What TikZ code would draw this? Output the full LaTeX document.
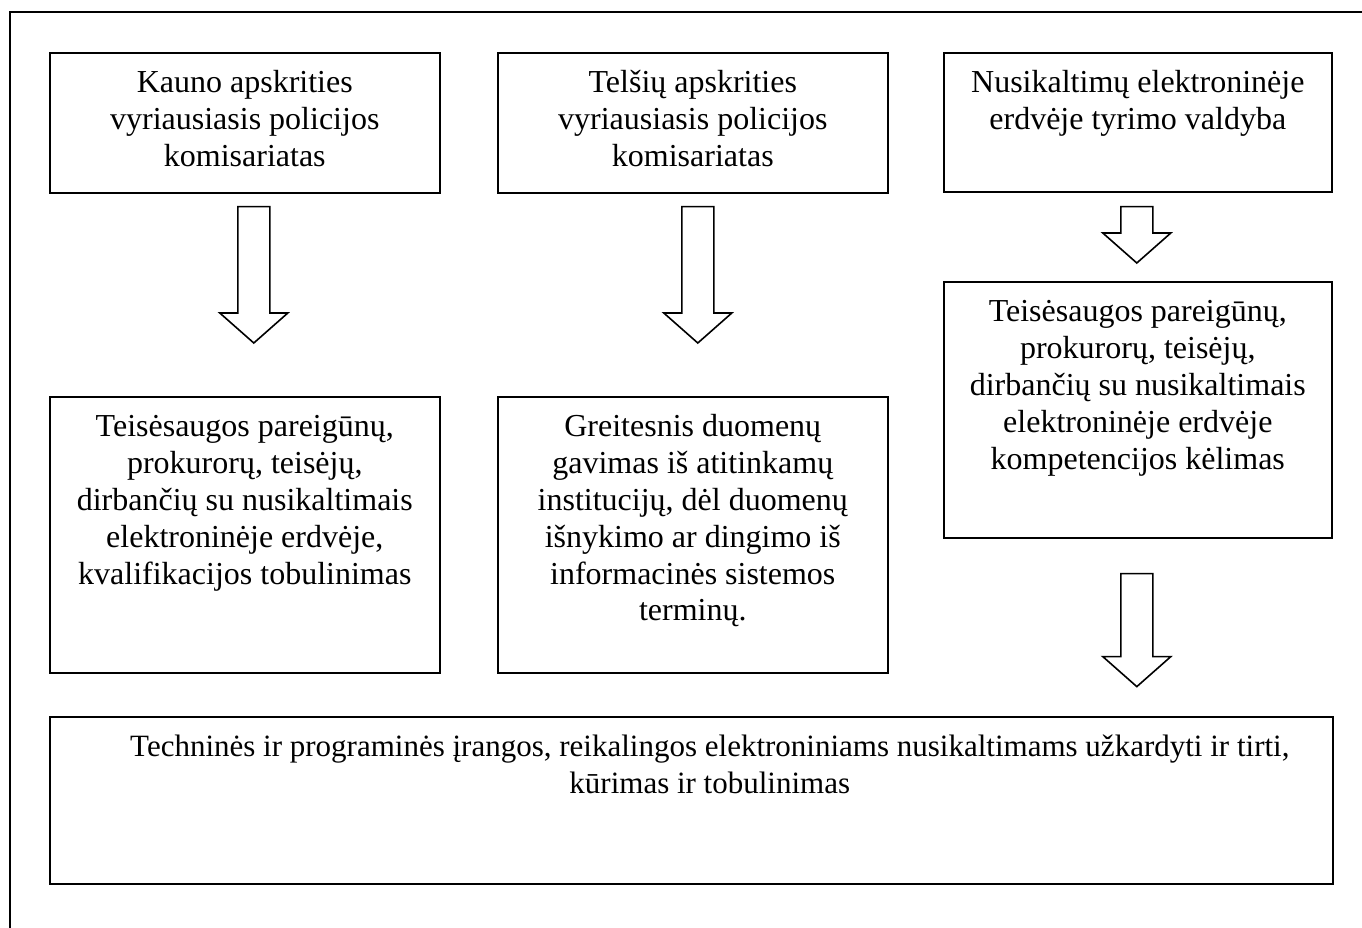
\documentclass[tikz,border=0pt]{standalone}
\usepackage{fontspec}
\setmainfont{Liberation Serif}
\usepackage{tikz}
\usetikzlibrary{positioning,calc}

% text set from the top of a box
\newcommand{\boxtext}[3]{\parbox[c][#2][t]{#1}{\centering\rule{0pt}{40pt}#3}}
% hollow block arrow from top centre #1 down to tip #2
\newcommand{\blockarrow}[2]{%
  \draw[blockline] ($(#1)+(-16,0)$) -- ($(#1)+(16,0)$) -- ($(#2)+(16,-30)$) -- ($(#2)+(34,-30)$)
    -- (#2) -- ($(#2)+(-34,-30)$) -- ($(#2)+(-16,-30)$) -- cycle;}

\begin{document}
\begin{tikzpicture}[x=1pt,y=-1pt,
    box/.style={draw,line width=1.6pt,inner sep=0pt,anchor=north west,
      font=\fontsize{32pt}{36.8pt}\selectfont},
    blockline/.style={line width=1.6pt,line join=miter}]
    \useasboundingbox (0,0) rectangle (1362,927);

    % Frame
    \draw[line width=1.6pt] (10,950) -- (10,12) -- (1380,12);

    % Top row
    \node[box] (kaunas) at (49,52) {\boxtext{390pt}{140pt}{Kauno apskrities\\ vyriausiasis policijos\\ komisariatas}};
    \node[box] (telsiai) at (497,52) {\boxtext{390pt}{140pt}{Telšių apskrities\\ vyriausiasis policijos\\ komisariatas}};
    \node[box] (valdyba) at (943,52) {\boxtext{388pt}{139pt}{Nusikaltimų elektroninėje\\ erdvėje tyrimo valdyba}};

    % Second row
    \node[box] (kvalif) at (49,396) {\boxtext{390pt}{276pt}{Teisėsaugos pareigūnų,\\ prokurorų, teisėjų,\\ dirbančių su nusikaltimais\\ elektroninėje erdvėje,\\ kvalifikacijos tobulinimas}};
    \node[box] (duomenys) at (497,396) {\boxtext{390pt}{276pt}{Greitesnis duomenų\\ gavimas iš atitinkamų\\ institucijų, dėl duomenų\\ išnykimo ar dingimo iš\\ informacinės sistemos\\ terminų.}};
    \node[box] (kompet) at (943,281) {\boxtext{388pt}{256pt}{Teisėsaugos pareigūnų,\\ prokurorų, teisėjų,\\ dirbančių su nusikaltimais\\ elektroninėje erdvėje\\ kompetencijos kėlimas}};

    % Bottom
    \node[box,font=\fontsize{31pt}{36.8pt}\selectfont] (iranga) at (49,716) {\boxtext{1283pt}{167pt}{\hspace*{37pt}Techninės ir programinės įrangos, reikalingos elektroniniams nusikaltimams užkardyti ir tirti,\\ \hspace*{37pt}kūrimas ir tobulinimas}};

    % Arrows
    \coordinate (k1) at ($(kaunas.south)+(9,13)$);
    \coordinate (k2) at ($(kvalif.north)+(9,-53)$);
    \coordinate (t1) at ($(telsiai.south)+(5,13)$);
    \coordinate (t2) at ($(duomenys.north)+(5,-53)$);
    \coordinate (v1) at ($(valdyba.south)+(-1,14)$);
    \coordinate (v2) at ($(kompet.north)+(-1,-18)$);
    \coordinate (c1) at ($(kompet.south)+(-1,35)$);
    \coordinate (c2) at ($(kompet.south)+(-1,148)$);
    \blockarrow{k1}{k2}
    \blockarrow{t1}{t2}
    \blockarrow{v1}{v2}
    \blockarrow{c1}{c2}
\end{tikzpicture}
\end{document}
